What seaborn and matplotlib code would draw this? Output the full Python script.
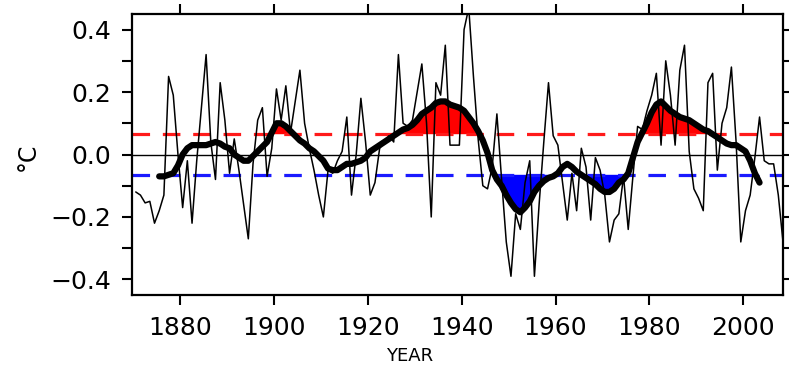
import numpy as np
import matplotlib
matplotlib.use("Agg")
import matplotlib.pyplot as plt
from matplotlib.ticker import MultipleLocator
import seaborn as sns

# annual index values, 1870-2008
years = np.arange(1870, 2009)
annual = [
    -0.12, -0.13, -0.155, -0.15, -0.22, -0.18, -0.13, 0.25, 0.19, 0.00,    # 1870s
    -0.17, -0.02, -0.22, -0.02, 0.15, 0.32, 0.04, -0.08, 0.23, 0.11,       # 1880s
    -0.06, 0.05, -0.05, -0.16, -0.27, -0.03, 0.11, 0.15, -0.07, 0.02,      # 1890s
    0.21, 0.11, 0.22, 0.07, 0.17, 0.27, 0.10, 0.02, -0.05, -0.13,          # 1900s
    -0.20, -0.05, -0.06, -0.02, 0.01, 0.12, -0.13, 0.00, 0.18, 0.04,       # 1910s
    -0.13, -0.09, 0.02, 0.04, 0.06, 0.04, 0.32, 0.10, 0.09, 0.11,          # 1920s
    0.20, 0.29, 0.10, -0.20, 0.23, 0.19, 0.35, 0.03, 0.03, 0.03,           # 1930s
    0.40, 0.47, 0.25, 0.05, -0.10, -0.11, -0.04, 0.13, -0.08, -0.28,       # 1940s
    -0.39, -0.19, -0.24, -0.09, -0.02, -0.39, -0.16, 0.04, 0.23, 0.06,     # 1950s
    0.03, -0.09, -0.21, -0.06, -0.18, 0.02, -0.04, -0.21, -0.01, -0.05,    # 1960s
    -0.13, -0.28, -0.21, -0.19, -0.07, -0.24, -0.07, 0.09, 0.08, 0.14,     # 1970s
    0.19, 0.26, 0.03, 0.30, 0.19, 0.03, 0.27, 0.35, 0.01, -0.11,           # 1980s
    -0.14, -0.18, 0.23, 0.26, -0.05, 0.10, 0.15, 0.28, 0.04, -0.28,        # 1990s
    -0.18, -0.13, -0.01, 0.12, -0.02, -0.03, -0.03, -0.13, -0.28,          # 2000s
]

# smoothed curve, 1875-2003
smooth_years = np.arange(1875, 2004)
smooth = [
    -0.07, -0.07, -0.065, -0.06, -0.035,                                   # 1875-79
    0.00, 0.02, 0.03, 0.03, 0.03, 0.03, 0.035, 0.04, 0.035, 0.025,         # 1880s
    0.02, 0.00, -0.01, -0.02, -0.02, -0.005, 0.01, 0.025, 0.04, 0.07,      # 1890s
    0.10, 0.10, 0.09, 0.075, 0.06, 0.045, 0.035, 0.02, 0.01, -0.005,       # 1900s
    -0.02, -0.045, -0.05, -0.05, -0.04, -0.03, -0.03, -0.025, -0.02, -0.01,  # 1910s
    0.01, 0.02, 0.03, 0.04, 0.05, 0.06, 0.07, 0.08, 0.085, 0.095,          # 1920s
    0.11, 0.13, 0.14, 0.15, 0.165, 0.17, 0.17, 0.16, 0.155, 0.15,          # 1930s
    0.14, 0.12, 0.10, 0.075, 0.045, 0.005, -0.05, -0.08, -0.10, -0.13,     # 1940s
    -0.155, -0.175, -0.185, -0.17, -0.15, -0.12, -0.10, -0.085, -0.075, -0.07,  # 1950s
    -0.06, -0.04, -0.03, -0.04, -0.055, -0.065, -0.075, -0.085, -0.095, -0.11,  # 1960s
    -0.12, -0.12, -0.11, -0.09, -0.08, -0.06, -0.01, 0.04, 0.07, 0.10,     # 1970s
    0.135, 0.16, 0.17, 0.155, 0.14, 0.13, 0.12, 0.115, 0.11, 0.10,         # 1980s
    0.09, 0.08, 0.075, 0.065, 0.055, 0.045, 0.035, 0.03, 0.03, 0.02,       # 1990s
    0.01, -0.02, -0.06, -0.09,                                             # 2000-03
]

upper, lower = 0.065, -0.065
xticks = [1880, 1900, 1920, 1940, 1960, 1980, 2000]
yticks = [-0.4, -0.2, 0.0, 0.2, 0.4]

sns.set_style("ticks")
plt.rcParams['font.family'] = ['DejaVu Sans']

fig = plt.figure(figsize=(7.89, 3.73), dpi=100)
ax = fig.add_axes([132 / 789, 78 / 373, 651 / 789, 281 / 373])

# values are annual means, plotted at mid-year
x = years + 0.5
xs = smooth_years + 0.5
s = np.array(smooth)

ax.fill_between(xs, s, upper, where=s > upper, interpolate=True, color='#ff0000', lw=0)
ax.fill_between(xs, s, lower, where=s < lower, interpolate=True, color='#0000ff', lw=0)

ax.axhline(0, color='black', lw=1.0)
ax.axhline(upper, color='#ff1a1a', lw=2.3, ls=(0, (5.5, 4)))
ax.axhline(lower, color='#1a1aff', lw=2.3, ls=(0, (5.5, 4)))

sns.lineplot(x=x, y=annual, color='black', lw=1.1, ax=ax)
sns.lineplot(x=xs, y=smooth, color='black', lw=4.5, ax=ax)

ax.set_xlim(1869.7, 2008.5)
ax.set_ylim(-0.45, 0.45)
ax.set_xticks(xticks)
ax.set_yticks(yticks)
ax.yaxis.set_minor_locator(MultipleLocator(0.1))

for sp in ax.spines.values():
    sp.set_linewidth(1.6)
    sp.set_color('black')

ax.tick_params(which='both', direction='out', length=7, width=1.5,
               top=True, right=True, labelsize=18, colors='black')
ax.tick_params(axis='x', which='minor', bottom=False, top=False)
ax.tick_params(axis='x', pad=8)
ax.tick_params(axis='y', pad=8)

ax.set_xlabel('YEAR', fontsize=13, color='black')
ax.xaxis.set_label_coords(0.427, -0.185)
ax.set_ylabel('°C', fontsize=17, color='black')
ax.yaxis.set_label_coords(-0.142, 0.49)

fig.savefig('out.png', dpi=100)
